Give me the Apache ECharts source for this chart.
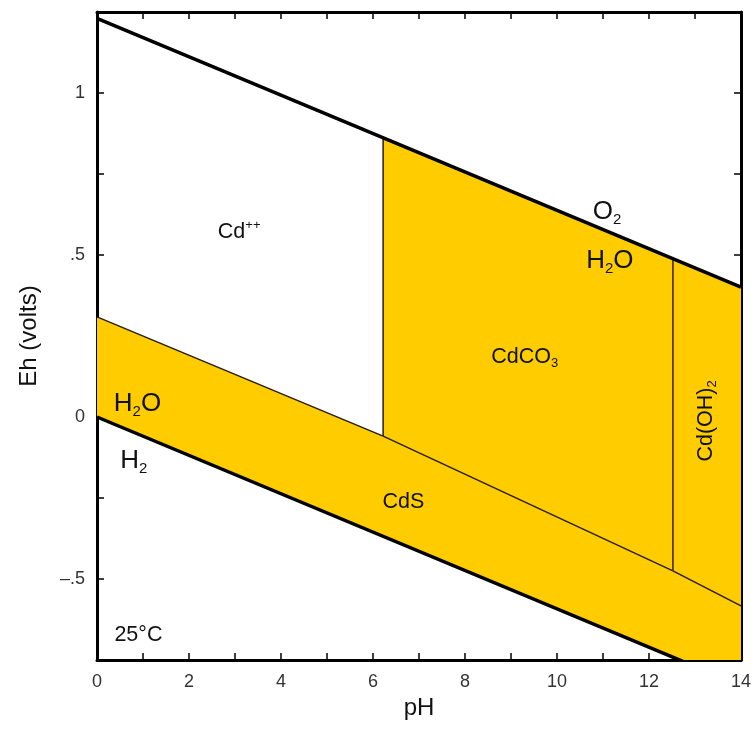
<!DOCTYPE html>
<html><head><meta charset="utf-8">
<script src="https://cdn.jsdelivr.net/npm/echarts@6/dist/echarts.min.js"></script>
<style>html,body{margin:0;padding:0;background:#fff}#c{width:755px;height:729px}</style>
</head><body><div id="c"></div>
<script>
// pH axis ticks (labels every 2)
const phTickLabels = [0, 2, 4, 6, 8, 10, 12, 14];
// Eh axis labelled ticks
const ehTickLabels = {'-0.5': '\u2013.5', '0': '0', '0.5': '.5', '1': '1'};
// Water stability limits [pH, Eh]
const o2H2OLine = [[0, 1.23], [14, 0.401]];
const h2oH2Line = [[0, 0], [14, -0.829]];
// CdS upper boundary
const cdsBoundary = [[0, 0.309], [6.22, -0.059], [12.52, -0.475], [14, -0.583]];
// Vertical boundaries
const cdCdCO3Boundary = [[6.22, -0.059], [6.22, 0.862]];
const cdCO3CdOH2Boundary = [[12.52, -0.475], [12.52, 0.489]];
// Field labels [pH, Eh, text, rotation]
const fieldLabels = [
  [3.09, 0.571, '{m|Cd}{sup|++}', 0],
  [11.09, 0.633, '{b|O}{bs|2}', 0],
  [11.15, 0.481, '{b|H}{bs|2}{b|O}', 0],
  [9.3, 0.185, '{m|CdCO}{s|3}', 0],
  [6.66, -0.262, '{m|CdS}', 0],
  [0.88, 0.040, '{b|H}{bs|2}{b|O}', 0],
  [0.80, -0.136, '{b|H}{bs|2}', 0],
  [0.90, -0.673, '{m|25°C}', 0],
  [13.24, -0.012, '{m|Cd(OH)}{s|2}', 90]
];

const yellow = '#FFCC00';
const ink = '#111';
const font = 'Liberation Sans, Arial, sans-serif';
const rich = {
  m: {fontSize: 21.5, lineHeight: 26, fontFamily: font, fill: ink, verticalAlign: 'middle'},
  s: {fontSize: 13, lineHeight: 12, fontFamily: font, fill: ink, verticalAlign: 'bottom'},
  sup: {fontSize: 13, lineHeight: 12, fontFamily: font, fill: ink, verticalAlign: 'top'},
  b: {fontSize: 26, lineHeight: 30, fontFamily: font, fill: ink, verticalAlign: 'middle'},
  bs: {fontSize: 15, lineHeight: 14, fontFamily: font, fill: ink, verticalAlign: 'bottom'}
};

const yellowRegion = [
  h2oH2Line[0], cdsBoundary[0], cdsBoundary[1], cdCdCO3Boundary[1],
  o2H2OLine[1], [14, h2oH2Line[1][1]]
];

const chart = echarts.init(document.getElementById('c'), null, {renderer: 'canvas'});
const tickStyle = {show: true, inside: true, length: 7, lineStyle: {color: '#000', width: 1.5}};
const lineStyleAxis = {show: true, onZero: false, lineStyle: {color: '#000', width: 3}};
chart.setOption({
  animation: false,
  backgroundColor: '#fff',
  grid: {left: 97, right: 14, top: 12, bottom: 69, containLabel: false},
  xAxis: [{
    type: 'value', min: 0, max: 14, interval: 1,
    axisLine: lineStyleAxis, axisTick: tickStyle, splitLine: {show: false},
    axisLabel: {fontSize: 18, fontFamily: font, color: '#333', margin: 13,
      formatter: v => phTickLabels.indexOf(v) >= 0 ? String(v) : ''},
    name: 'pH', nameLocation: 'middle', nameGap: 29,
    nameTextStyle: {fontSize: 24, fontFamily: font, color: ink}
  }, {
    type: 'value', min: 0, max: 14, interval: 1, position: 'top',
    axisLine: lineStyleAxis, axisTick: tickStyle, axisLabel: {show: false}, splitLine: {show: false}
  }],
  yAxis: [{
    type: 'value', min: -0.75, max: 1.25, interval: 0.25,
    axisLine: lineStyleAxis, axisTick: tickStyle, splitLine: {show: false},
    axisLabel: {fontSize: 18, fontFamily: font, color: '#333', margin: 12,
      formatter: v => { const k = String(Math.round(v * 100) / 100); return ehTickLabels[k] !== undefined ? ehTickLabels[k] : ''; }},
    name: 'Eh (volts)', nameLocation: 'middle', nameGap: 56, nameRotate: 90,
    nameTextStyle: {fontSize: 24, fontFamily: font, color: ink}
  }, {
    type: 'value', min: -0.75, max: 1.25, interval: 0.25, position: 'right',
    axisLine: lineStyleAxis, axisTick: tickStyle, axisLabel: {show: false}, splitLine: {show: false}
  }],
  series: [
    {
      type: 'custom', clip: true, silent: true, z: 1,
      data: [0],
      renderItem: (params, api) => ({
        type: 'polygon',
        shape: {points: yellowRegion.map(p => api.coord(p))},
        style: {fill: yellow, stroke: null}
      })
    },
    {type: 'line', data: cdsBoundary, symbol: 'none', clip: true, z: 3,
      lineStyle: {color: '#2a1d00', width: 1.5}},
    {type: 'line', data: cdCdCO3Boundary, symbol: 'none', clip: true, z: 3,
      lineStyle: {color: '#2a1d00', width: 1.5}},
    {type: 'line', data: cdCO3CdOH2Boundary, symbol: 'none', clip: true, z: 3,
      lineStyle: {color: '#5a3c00', width: 1.8}},
    {type: 'line', data: o2H2OLine, symbol: 'none', clip: true, z: 4,
      lineStyle: {color: '#000', width: 3.5}},
    {type: 'line', data: h2oH2Line, symbol: 'none', clip: true, z: 4,
      lineStyle: {color: '#000', width: 3.5}},
    {
      type: 'custom', silent: true, z: 5, clip: false,
      data: fieldLabels.map((d, i) => [d[0], d[1], i]),
      renderItem: (params, api) => {
        const d = fieldLabels[params.dataIndex];
        const pt = api.coord([d[0], d[1]]);
        return {
          type: 'text', x: pt[0], y: pt[1], rotation: d[3] * Math.PI / 180,
          style: {text: d[2], rich: rich, align: 'center', verticalAlign: 'middle', fill: ink,
            fontFamily: font}
        };
      }
    }
  ]
});
</script></body></html>
